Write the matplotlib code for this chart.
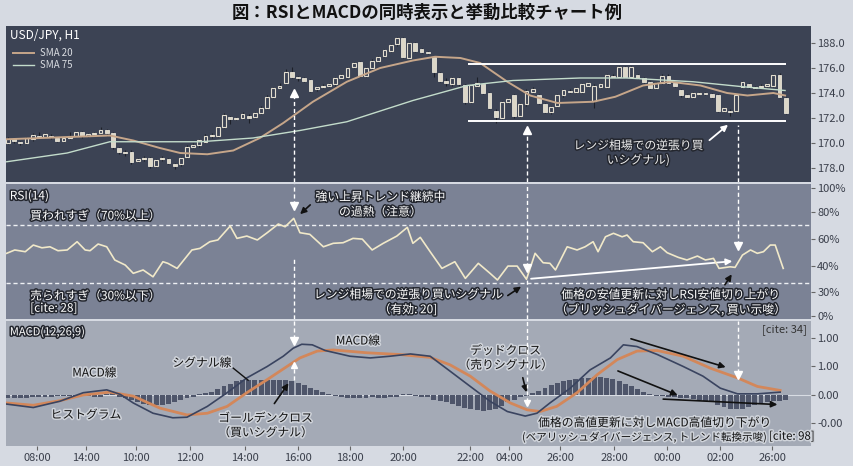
import numpy as np
import matplotlib
matplotlib.use("Agg")
import matplotlib.pyplot as plt
import matplotlib.patheffects as pe

plt.rcParams['font.family'] = ['Noto Sans CJK JP', 'DejaVu Sans']

# ---------------- data ----------------
title = "図：RSIとMACDの同時表示と挙動比較チャート例"

op = [170.0,170.3,170.1,170.0,170.3,170.6,170.5,170.6,170.4,170.2,170.4,170.6,170.9,170.6,170.7,170.8,171.0,
      170.8,169.6,169.3,169.3,168.6,168.7,168.8,168.2,168.7,168.7,168.3,168.3,
      168.9,169.7,169.8,170.1,170.6,170.6,171.3,172.1,171.9,172.0,172.2,172.1,172.4,172.8,173.7,174.4,
      174.8,175.7,175.3,175.2,175.0,174.3,174.5,174.6,174.7,175.2,175.3,176.1,176.5,175.4,176.0,176.6,
      177.0,177.4,177.9,178.4,176.8,178.0,177.5,177.3,176.9,175.6,175.0,174.7,175.2,174.6,173.3,174.6,
      174.7,174.0,172.6,172.0,173.3,
      173.8,172.2,173.1,174.1,173.8,173.1,172.5,173.0,173.8,174.2,174.1,174.1,174.6,173.4,174.5,174.5,
      175.4,175.3,176.1,175.3,175.4,175.2,174.9,174.4,174.8,175.4,174.8,174.2,173.8,173.7,173.9,174.0,
      173.9,173.8,172.6,172.6,172.6,174.5,174.7,174.5,174.5,174.6,174.6,175.4,173.6]
cl = [170.3,170.2,170.0,170.4,170.6,170.5,170.7,170.5,170.2,170.4,170.6,170.9,170.6,170.7,170.8,171.0,170.8,
      169.7,169.3,169.2,168.5,168.7,168.8,168.2,168.6,168.8,168.4,168.2,168.8,
      169.7,169.8,170.2,170.6,170.6,171.3,172.2,171.9,172.0,172.3,172.0,172.4,172.8,173.7,174.4,174.6,
      175.7,175.3,175.2,175.0,174.2,174.5,174.6,174.7,175.2,175.4,176.0,176.4,175.4,176.0,176.6,176.9,
      177.4,177.8,178.4,176.9,178.0,177.4,177.3,177.2,175.7,175.0,174.8,175.2,174.7,173.3,174.6,174.8,
      174.0,172.8,172.1,173.3,173.5,
      172.2,173.1,174.2,174.3,173.2,172.5,172.9,173.8,174.2,174.1,174.4,174.7,174.8,174.6,174.7,175.4,
      175.3,176.1,175.3,176.1,175.2,174.9,174.4,174.8,175.4,174.8,174.6,173.8,173.7,174.0,174.0,173.9,
      173.7,172.6,172.8,172.5,173.8,174.9,174.5,174.4,174.6,174.7,175.4,173.7,172.4]
hi = [170.5,170.4,170.2,170.5,170.8,170.9,170.8,170.7,170.5,170.5,170.9,171.0,171.0,170.8,170.9,171.3,171.1,
      170.9,169.7,169.4,169.4,168.8,169.0,168.9,168.7,169.0,168.8,168.4,168.9,
      169.8,170.0,170.3,170.7,170.8,171.4,172.4,172.2,172.1,172.5,172.3,172.5,173.0,173.8,174.5,174.8,
      175.9,176.1,175.4,175.3,175.1,174.6,174.7,174.8,175.3,175.5,176.1,176.5,176.6,176.1,176.7,177.0,
      177.5,177.9,178.5,178.5,178.1,178.1,177.6,177.4,177.0,175.7,175.2,175.3,175.3,174.7,174.7,175.3,
      174.8,174.1,172.7,173.4,173.6,
      173.9,173.2,174.3,174.5,173.9,173.2,173.0,173.9,174.3,174.3,174.5,174.8,174.9,174.7,174.8,175.5,
      175.5,176.2,176.2,176.2,175.5,175.3,175.0,174.9,175.5,175.5,174.9,174.3,173.9,174.1,174.1,174.1,
      174.0,173.9,172.9,172.7,173.9,175.0,174.8,174.6,174.7,174.8,175.5,175.6,173.7]
lo = [169.9,170.0,169.8,169.9,170.2,170.4,170.4,170.3,170.1,170.1,170.3,170.5,170.4,170.5,170.6,170.7,170.6,
      169.5,169.1,169.0,168.3,168.5,168.6,168.0,168.1,168.6,168.3,167.9,168.2,
      168.8,169.6,169.7,170.0,170.4,170.5,171.2,171.5,171.8,171.9,171.6,172.0,172.3,172.7,173.6,174.3,
      174.7,175.2,175.0,174.9,174.1,174.2,174.4,174.5,174.6,175.1,175.2,176.0,175.3,175.3,175.9,176.5,
      176.9,177.3,177.8,176.8,176.7,177.3,177.2,177.1,175.3,174.9,174.6,174.6,174.6,173.1,173.2,174.5,
      173.9,172.7,171.6,171.9,173.2,
      172.0,172.1,173.0,174.0,173.1,172.4,172.3,172.9,173.7,174.0,174.0,174.0,174.5,172.8,174.4,174.4,
      175.2,175.2,175.2,175.2,175.1,174.8,174.3,174.3,174.7,174.7,174.5,173.7,173.6,173.6,173.8,173.8,
      173.6,172.5,172.5,172.2,172.5,174.4,174.4,174.3,174.4,174.5,174.5,173.6,172.3]

sma20_x = [-0.2,16.5,20.3,24.6,27.9,32.3,36.5,40.8,44.6,49.4,54.9,60.3,65.6,69.2,73.3,76.5,80.9,84.6,
           89.0,94.8,98.4,102.9,107.3,112.2,116.5,119.8,124.0,125.9]
sma20_y = [170.3,170.6,170.2,169.6,169.2,169.1,169.4,170.4,171.6,173.3,174.9,176.0,176.6,176.9,176.8,
           176.4,174.9,173.8,173.2,173.3,173.7,174.6,174.9,174.6,174.0,173.8,174.0,173.8]
sma75_x = [-0.2,9.6,16.5,25.8,31.1,39.7,47.3,54.9,65.6,74.4,81.8,92.7,100.3,111.0,119.1,125.9]
sma75_y = [168.5,169.2,170.1,170.1,170.1,170.4,171.0,171.7,173.4,174.6,175.0,175.2,175.2,174.9,174.5,174.2]

price_ticks = [178, 176, 174, 172, 170, 168]
price_labels = ["188.0", "176.0", "174.0", "172.0", "170.0", "178.0"]
range_top, range_bot = 176.32, 171.78

rsi_x = [-0.2,1.1,2.8,4.1,5.5,6.8,8.1,9.6,11.2,12.5,13.3,14.6,16.0,17.3,19.0,20.3,21.9,23.5,25.1,25.9,27.4,
         29.8,31.1,32.7,34.0,36.0,37.1,38.7,40.4,42.0,43.8,44.9,46.3,47.3,48.9,51.1,52.7,54.3,55.9,57.4,59.0,
         60.8,63.0,64.7,65.6,66.8,68.4,70.3,72.4,74.1,76.2,78.1,79.3,81.0,82.5,84.0,85.4,86.7,87.8,88.7,90.6,
         92.2,93.5,94.8,95.6,96.8,98.1,99.5,100.3,101.3,102.9,104.4,105.7,106.8,108.6,110.0,111.7,113.0,114.3,
         115.2,117.0,117.8,119.0,120.3,121.4,122.4,123.5,124.3,125.6]
rsi_y = [50.5,52.8,51.6,56.2,54.3,55.0,52.3,52.8,58.5,52.8,52.3,56.9,55.0,45.9,42.4,36.7,39.0,34.3,44.7,43.6,
         40.1,52.8,53.9,58.5,59.7,69.3,60.8,62.4,59.7,64.7,70.7,68.8,74.6,64.7,63.6,55.0,57.4,57.8,60.8,60.3,
         52.8,57.4,62.4,68.4,57.4,61.5,51.6,40.1,44.7,33.2,43.6,36.7,32.1,41.7,41.7,32.6,50.5,44.0,43.6,39.0,
         55.0,52.8,55.0,58.5,51.6,61.9,64.3,61.9,63.1,58.5,57.8,51.6,55.0,50.9,47.7,45.9,48.6,45.9,47.0,40.1,
         41.2,40.8,49.3,52.8,50.5,51.6,56.2,56.2,40.1]
rsi_ticks = [95.7, 79.0, 60.3, 41.9, 24.0, 7.2]
rsi_labels = ["100%", "80%", "60%", "40%", "30%", "0%"]

macd_x = [-0.2,4.1,8.4,12.2,16.0,18.2,20.3,23.5,26.7,29.0,32.3,35.5,38.7,42.0,44.6,46.2,47.6,49.3,51.4,55.4,
          58.7,61.9,65.2,68.4,71.6,74.9,78.1,80.9,83.8,85.7,87.8,91.1,94.3,97.6,99.7,101.9,105.2,109.4,112.6,
          115.4,118.2,121.4,125.1]
macd_y = [-0.16,-0.22,-0.11,0.04,0.09,0.01,-0.14,-0.32,-0.40,-0.39,-0.20,0.04,0.30,0.50,0.68,0.82,0.89,0.88,
          0.78,0.68,0.65,0.68,0.72,0.68,0.42,0.15,-0.11,-0.29,-0.37,-0.32,-0.14,0.12,0.44,0.65,0.88,0.85,0.71,
          0.50,0.33,0.12,0.02,0.02,0.05]
sig_x = [-0.2,4.1,8.4,12.2,16.5,20.3,24.6,29.0,32.3,35.5,38.7,42.0,45.2,47.3,50.1,52.7,58.2,63.5,68.4,71.6,
         74.9,78.1,81.4,84.1,86.2,88.9,92.2,95.5,98.7,101.9,105.2,109.4,113.8,118.2,121.4,125.1]
sig_y = [-0.14,-0.18,-0.10,0.00,0.05,-0.02,-0.23,-0.35,-0.32,-0.20,0.04,0.27,0.50,0.65,0.77,0.79,0.74,0.71,
         0.66,0.53,0.33,0.07,-0.14,-0.26,-0.29,-0.20,0.04,0.36,0.62,0.77,0.78,0.68,0.47,0.30,0.15,0.08]
hist = [-0.05,-0.06,-0.06,-0.05,-0.04,-0.04,-0.03,-0.03,-0.02,-0.02,-0.02,-0.01,-0.01,-0.02,-0.03,-0.03,
        0.02,0.03,-0.03,-0.06,-0.09,-0.12,-0.15,-0.17,-0.18,-0.17,-0.15,-0.12,-0.09,-0.06,-0.03,
        0.01,0.03,0.06,0.10,0.15,0.20,0.25,0.26,0.26,0.26,0.26,0.27,0.27,0.26,0.26,0.24,0.21,0.17,0.13,0.09,
        0.05,0.02,
        -0.02,-0.04,-0.05,-0.06,-0.05,-0.05,-0.04,-0.05,-0.06,-0.04,-0.03,0.02,0.02,-0.02,-0.03,-0.04,
        -0.08,-0.10,-0.13,-0.16,-0.19,-0.22,-0.25,-0.27,-0.28,-0.27,-0.24,-0.19,-0.13,-0.08,-0.04,
        -0.02,0.03,0.07,0.12,0.17,0.21,0.25,0.27,0.28,0.29,0.30,0.31,0.31,0.30,0.28,0.25,0.20,0.15,0.10,0.05,
        0.02,
        -0.01,-0.02,-0.03,-0.04,-0.05,-0.06,-0.07,-0.08,-0.10,-0.13,-0.17,-0.21,-0.24,-0.25,-0.24,-0.21,-0.18,
        -0.15,-0.12,-0.10,-0.10,-0.09]
macd_ticks = [1.0, 0.5, 0.0, -0.5]
macd_labels = ["1.00", "1.00", "0.00", "-0.00"]

time_pos = [4.7,12.6,20.7,29.5,38.4,47.0,55.4,64.0,74.9,81.2,89.5,98.2,106.8,115.4,123.8]
time_labels = ["08:00","14:00","10:00","12:00","14:00","16:00","18:00","20:00","22:00","04:00",
               "26:00","28:00","00:00","02:00","26:00"]

sig1, sig2, sig3 = 46.4, 84.1, 118.2   # signal bars (vertical guides)

# ---------------- style ----------------
BG = '#d6dae2'
C_PRICE = '#3c4354'
C_RSI = '#7b8295'
C_MACD = '#a4aab6'
TICKC = '#3a3f4b'
light_fx = [pe.withStroke(linewidth=2.2, foreground='#23262e')]
dark_fx = [pe.withStroke(linewidth=2.2, foreground='#cfd3da')]

fig = plt.figure(figsize=(8.54, 4.66), dpi=100, facecolor=BG)
L, W = 6/854, 805/854
ax1 = fig.add_axes([L, 1-182/466, W, 156/466], facecolor=C_PRICE)
ax2 = fig.add_axes([L, 1-319/466, W, 135/466], facecolor=C_RSI)
ax3 = fig.add_axes([L, 1-446/466, W, 125/466], facecolor=C_MACD)

fig.text(0.5, 1-13/466, title, ha='center', va='center', fontsize=12.5, fontweight='bold', color='#111')

for ax in (ax1, ax2, ax3):
    for s in ax.spines.values():
        s.set_visible(False)
    ax.set_xlim(-0.32, 130.1)
    ax.yaxis.tick_right()
    ax.tick_params(axis='y', labelsize=8, colors='#666', labelcolor=TICKC, length=3, pad=1.5)
    ax.tick_params(axis='x', bottom=False, labelbottom=False)

# ---------------- price panel ----------------
idx = np.arange(len(op))
op_a, cl_a = np.array(op), np.array(cl)
up = cl_a >= op_a
ax1.vlines(idx, lo, hi, color='#1d2029', lw=0.8, zorder=2)
body_b = np.minimum(op_a, cl_a)
body_h = np.maximum(np.abs(cl_a - op_a), 0.06)
ax1.bar(idx[up], body_h[up], bottom=body_b[up], width=0.62, color=C_PRICE,
        edgecolor='#e2ddcf', linewidth=0.8, zorder=3)
ax1.bar(idx[~up], body_h[~up], bottom=body_b[~up], width=0.62, color='#dcd7c8',
        edgecolor='#e8e4d8', linewidth=0.6, zorder=3)
ax1.plot(sma20_x, sma20_y, color='#c6a68a', lw=1.4, label='SMA 20', zorder=4)
ax1.plot(sma75_x, sma75_y, color='#c3dccb', lw=1.0, label='SMA 75', zorder=4)
ax1.set_ylim(166.88, 179.36)
ax1.set_yticks(price_ticks)
ax1.set_yticklabels(price_labels)

ax1.hlines([range_top, range_bot], 74.6, 126.1, color='white', lw=1.4, zorder=5)
ax1.text(0.3, 178.6, "USD/JPY, H1", color='white', fontsize=8.5, va='center', ha='left')
leg = ax1.legend(loc='upper left', bbox_to_anchor=(0.0, 0.9), frameon=False, fontsize=7,
                 handlelength=2.2, labelspacing=0.2, borderaxespad=0.3, handletextpad=0.6)
for t in leg.get_texts():
    t.set_color('#d8dbe0')

# vertical guides in price panel
ax1.vlines(sig1, 166.88, 173.9, color='white', lw=1, linestyles=(0, (3, 2)), zorder=6)
ax1.plot(sig1, 174.0, marker='^', color='white', ms=6, zorder=6)
ax1.vlines(sig2, 166.88, 171.0, color='white', lw=1, linestyles=(0, (3, 2)), zorder=6)
ax1.plot(sig2, 171.05, marker='^', color='white', ms=6, zorder=6)
ax1.vlines(sig3, 166.88, 171.44, color='white', lw=1, linestyles=(0, (3, 2)), zorder=6)
ax1.annotate('', xy=(117.0, 171.6), xytext=(113.3, 170.08),
             arrowprops=dict(arrowstyle='-|>', color='white', lw=1.3, mutation_scale=9))
ax1.text(102.1, 169.2, "レンジ相場での逆張り買\nいシグナル)", color='#eeeeee', fontsize=8.5,
         ha='center', va='center', linespacing=1.15, path_effects=light_fx, zorder=7)

# ---------------- RSI panel ----------------
ax2.set_ylim(5.2, 98.3)
ax2.set_yticks(rsi_ticks)
ax2.set_yticklabels(rsi_labels)
ax2.axhline(70, color='#eef0f4', lw=1, ls=(0, (3, 2)))
ax2.axhline(30, color='#eef0f4', lw=1, ls=(0, (3, 2)))
ax2.plot(rsi_x, rsi_y, color='#f1e9c9', lw=1.2, zorder=4)

ax2.vlines(sig1, 84.0, 98.3, color='white', lw=1, linestyles=(0, (3, 2)), zorder=6)
ax2.plot(sig1, 83.2, marker='v', color='white', ms=6, zorder=6)
ax2.vlines(sig1, 5.2, 47.9, color='white', lw=1, linestyles=(0, (3, 2)), zorder=6)
ax2.vlines(sig2, 41.0, 98.3, color='white', lw=1, linestyles=(0, (3, 2)), zorder=6)
ax2.plot(sig2, 40.2, marker='v', color='white', ms=6, zorder=6)
ax2.vlines(sig2, 5.2, 32.1, color='white', lw=1, linestyles=(0, (3, 2)), zorder=6)
ax2.vlines(sig3, 56.5, 98.3, color='white', lw=1, linestyles=(0, (3, 2)), zorder=6)
ax2.plot(sig3, 55.7, marker='v', color='white', ms=6, zorder=6)

ax2.annotate('', xy=(117.8, 45.2), xytext=(84.3, 32.8),
             arrowprops=dict(arrowstyle='-|>', color='white', lw=1.3, mutation_scale=9))
ax2.annotate('', xy=(47.0, 76.2), xytext=(49.3, 85.2),
             arrowprops=dict(arrowstyle='-|>', color='#111', lw=1.2, mutation_scale=9))
ax2.annotate('', xy=(83.5, 28.6), xytext=(80.6, 20.3),
             arrowprops=dict(arrowstyle='-|>', color='#111', lw=1.2, mutation_scale=9))
ax2.annotate('', xy=(117.5, 37.6), xytext=(115.9, 27.2),
             arrowprops=dict(arrowstyle='-|>', color='#111', lw=1.2, mutation_scale=9))

ax2.text(0.3, 90.0, "RSI(14)", color='white', fontsize=8.5, ha='left', va='center', path_effects=light_fx)
ax2.text(3.6, 76.2, "買われすぎ（70%以上）", color='white', fontsize=8.5, ha='left', va='center',
         path_effects=light_fx)
ax2.text(3.6, 21.0, "売られすぎ（30%以下）", color='white', fontsize=8.5, ha='left', va='center',
         path_effects=light_fx)
ax2.text(3.6, 12.6, "[cite: 28]", color='white', fontsize=8.5, ha='left', va='center', path_effects=light_fx)
ax2.text(60.3, 84.1, "強い上昇トレンド継続中\nの過熱（注意）", color='white', fontsize=8.5, ha='center',
         va='center', linespacing=1.2, path_effects=light_fx)
ax2.text(64.8, 16.8, "レンジ相場での逆張り買いシグナル\n（有効: 20]", color='white', fontsize=8.5,
         ha='center', va='center', linespacing=1.2, path_effects=light_fx)
ax2.text(107.3, 16.6, "価格の安値更新に対しRSI安値切り上がり\n（ブリッシュダイバージェンス, 買い示唆）",
         color='white', fontsize=8.5, ha='center', va='center', linespacing=1.2, path_effects=light_fx)

# ---------------- MACD panel ----------------
ax3.set_ylim(-0.895, 1.298)
ax3.set_yticks(macd_ticks)
ax3.set_yticklabels(macd_labels)
ax3.axhline(0, color='#d8dce3', lw=0.8, zorder=1)
ax3.bar(np.arange(len(hist)), hist, width=0.8, color='#4e556a', zorder=2)
ax3.plot(sig_x, sig_y, color='#d3875a', lw=2.0, zorder=3)
ax3.plot(macd_x, macd_y, color='#3a4460', lw=1.2, zorder=4)
ax3.set_xticks(time_pos)
ax3.set_xticklabels(time_labels)
ax3.tick_params(axis='x', bottom=True, labelbottom=True, labelsize=8, colors='#666',
                labelcolor=TICKC, length=3, pad=2)

ax3.vlines(sig1, 0.98, 1.298, color='white', lw=1, linestyles=(0, (3, 2)), zorder=6)
ax3.plot(sig1, 0.94, marker='v', color='white', ms=6, zorder=6)
ax3.vlines(sig1, 0.26, 0.50, color='white', lw=1, linestyles=(0, (3, 2)), zorder=6)
ax3.plot(sig1, 0.52, marker='^', color='white', ms=5, zorder=6)
ax3.vlines(sig2, -0.12, 1.298, color='white', lw=1, linestyles=(0, (3, 2)), zorder=6)
ax3.plot(sig2, -0.14, marker='v', color='white', ms=4, zorder=6)
ax3.vlines(sig3, 0.38, 1.298, color='white', lw=1, linestyles=(0, (3, 2)), zorder=6)
ax3.plot(sig3, 0.35, marker='v', color='white', ms=6, zorder=6)

arr = dict(arrowstyle='-|>', color='#111', lw=1.2, mutation_scale=9)
ax3.annotate('', xy=(45.7, 0.246), xytext=(42.9, -0.19), arrowprops=arr)
ax3.annotate('', xy=(84.1, 0.0), xytext=(83.3, 0.35), arrowprops=arr)
ax3.annotate('', xy=(116.7, 0.474), xytext=(100.5, 1.0), arrowprops=arr)
ax3.annotate('', xy=(108.9, -0.02), xytext=(98.4, 0.44), arrowprops=arr)
ax3.annotate('', xy=(125.1, -0.17), xytext=(105.7, -0.07), arrowprops=arr)
ax3.plot([36.5, 38.9], [0.47, 0.26], color='#111', lw=1.0, zorder=5)

ax3.text(0.3, 1.105, "MACD(12,26,9)", color='white', fontsize=8, ha='left', va='center', path_effects=light_fx)
ax3.text(129.5, 1.14, "[cite: 34]", color='#333', fontsize=8, ha='right', va='center')
ax3.text(31.4, 0.56, "シグナル線", color='#111', fontsize=8.5, ha='center', va='center', path_effects=dark_fx)
ax3.text(14.0, 0.386, "MACD線", color='#111', fontsize=8.5, ha='center', va='center', path_effects=dark_fx)
ax3.text(12.6, -0.35, "ヒストグラム", color='#111', fontsize=8.5, ha='center', va='center', path_effects=dark_fx)
ax3.text(56.7, 0.947, "MACD線", color='#111', fontsize=8.5, ha='center', va='center', path_effects=dark_fx)
ax3.text(41.7, -0.535, "ゴールデンクロス\n（買いシグナル）", color='#111', fontsize=8.5, ha='center',
         va='center', linespacing=1.15, path_effects=dark_fx)
ax3.text(80.6, 0.65, "デッドクロス\n（売りシグナル）", color='#111', fontsize=8.5, ha='center',
         va='center', linespacing=1.15, path_effects=dark_fx)
ax3.text(104.7, -0.49, "価格の高値更新に対しMACD高値切り下がり", color='#111', fontsize=8.5, ha='center',
         va='center', path_effects=dark_fx)
ax3.text(122.7, -0.74, "(ベアリッシュダイバージェンス, トレンド転換示唆)", color='#111', fontsize=7.6,
         ha='right', va='center', path_effects=dark_fx)
ax3.text(123.3, -0.74, "[cite: 98]", color='#111', fontsize=8.2, ha='left', va='center',
         path_effects=dark_fx, clip_on=False)

fig.savefig('out.png', dpi=100, facecolor=BG)
